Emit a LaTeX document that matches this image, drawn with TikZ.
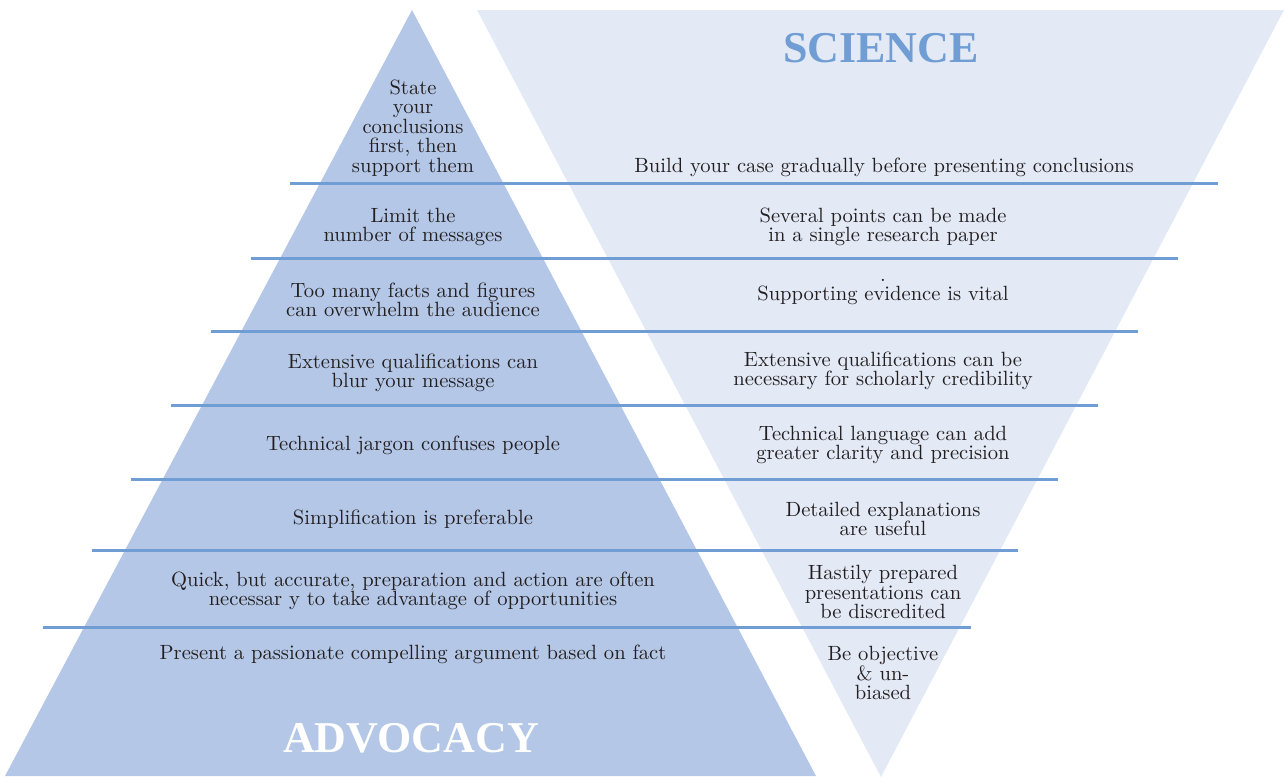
\documentclass[tikz,border=0pt]{standalone}
\usepackage{fontspec}
\newfontfamily\titlefont{Liberation Serif}
\usepackage{xcolor}
\definecolor{advblue}{RGB}{180,199,231}
\definecolor{scipale}{RGB}{227,234,246}
\definecolor{ruleblue}{RGB}{112,157,212}
\definecolor{textdark}{RGB}{35,31,32}
\usepackage{tikz}

\tikzset{
  cell/.style={font=\fontsize{10.3}{9.75}\selectfont, text=textdark, align=center, inner sep=0pt},
  heading/.style={font=\titlefont\bfseries\fontsize{22}{22}\selectfont, inner sep=0pt}
}

\begin{document}
\begin{tikzpicture}[x=0.5pt, y=-0.5pt]
  \useasboundingbox (0,0) rectangle (1285,782);
  % Science: inverted triangle (behind)
  \fill[scipale] (477,10) -- (1284,10) -- (881,777) -- cycle;
  % Advocacy: upright triangle
  \fill[advblue] (412,10) -- (816,776) -- (5,776) -- cycle;
  % Divider lines
  \foreach \y/\xa/\xb in {183/290/1218, 258/251/1178, 331/211/1138, 405/171/1098,
                          479/131/1058, 550/92/1018, 627/43/971}
    \draw[ruleblue, line width=1.5pt] (\xa,\y) -- (\xb,\y);

  % Headings
  \node[heading, ruleblue] (sci) at (881,48) {SCIENCE};
  \node[heading, white] (adv) at (411,738) {ADVOCACY};

  % Advocacy column
  \node[cell] (a1) at (413,128) {State\\your\\conclusions\\first, then\\support them};
  \node[cell] (a2) at (413,227) {Limit the\\number of messages};
  \node[cell] (a3) at (413,300) {Too many facts and figures\\can overwhelm the audience};
  \node[cell] (a4) at (413,373) {Extensive qualifications can\\blur your message};
  \node[cell] (a5) at (413,445) {Technical jargon confuses people};
  \node[cell] (a6) at (413,519) {Simplification is preferable};
  \node[cell] (a7) at (413,591) {Quick, but accurate, preparation and action are often\\necessar y to take advantage of opportunities};
  \node[cell] (a8) at (413,654) {Present a passionate compelling argument based on fact};

  % Science column
  \node[cell] (s1) at (884,167) {Build your case gradually before presenting conclusions};
  \node[cell] (s2) at (883,227) {Several points can be made\\in a single research paper};
  \node[cell] (s3) at (883,292) {.\\Supporting evidence is vital};
  \node[cell] (s4) at (883,371) {Extensive qualifications can be\\necessary for scholarly credibility};
  \node[cell] (s5) at (883,445) {Technical language can add\\greater clarity and precision};
  \node[cell] (s6) at (883,519) {Detailed explanations\\are useful};
  \node[cell] (s7) at (883,592) {Hastily prepared\\presentations can\\be discredited};
  \node[cell] (s8) at (883,673) {Be objective\\\& un-\\biased};
\end{tikzpicture}
\end{document}
